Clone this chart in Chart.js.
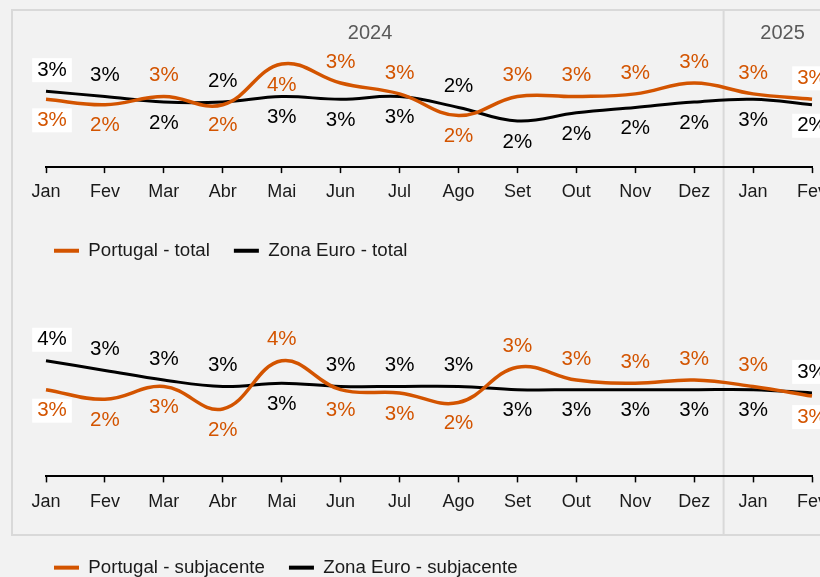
<!DOCTYPE html>
<html>
<head>
<meta charset="utf-8">
<script src="https://cdn.jsdelivr.net/npm/chart.js@4.4.1/dist/chart.umd.min.js"></script>
<style>
  html, body { margin: 0; padding: 0; background: #f2f2f2; overflow: hidden; width: 820px; height: 577px; }
  #frame { position: absolute; left: 11px; top: 9px; width: 900px; height: 527px; border: 2px solid #d9d9d9; box-sizing: border-box; }
  canvas { position: absolute; left: 0; }
</style>
</head>
<body>
<div id="frame"></div>
<canvas id="chartTotal" width="860" height="270" style="top:0"></canvas>
<canvas id="chartCore" width="860" height="320" style="top:270px"></canvas>
<script>
// months shown on the x axis and the year each one belongs to
const months = ['Jan', 'Fev', 'Mar', 'Abr', 'Mai', 'Jun', 'Jul', 'Ago', 'Set', 'Out', 'Nov', 'Dez', 'Jan', 'Fev'];
const monthYears = ['2024', '2024', '2024', '2024', '2024', '2024', '2024', '2024', '2024', '2024', '2024', '2024', '2025', '2025'];
const years = ['2024', '2025'];

// inflation, %
const ptTotal = [2.5, 2.3, 2.6, 2.3, 3.8, 3.1, 2.7, 1.9, 2.6, 2.6, 2.7, 3.1, 2.7, 2.5];
const ezTotal = [2.8, 2.6, 2.4, 2.4, 2.6, 2.5, 2.6, 2.2, 1.7, 2.0, 2.2, 2.4, 2.5, 2.3];
const ptCore = [2.7, 2.4, 2.8, 2.1, 3.6, 2.7, 2.6, 2.3, 3.4, 3.0, 2.9, 3.0, 2.8, 2.5];
const ezCore = [3.6, 3.3, 3.0, 2.8, 2.9, 2.8, 2.8, 2.8, 2.7, 2.7, 2.7, 2.7, 2.7, 2.6];

const ORANGE = '#d35400';
const BLACK = '#000000';
const TEXT = '#1a1a1a';
const FONT = "'Liberation Sans', Arial, sans-serif";
Chart.defaults.font.family = FONT;

// value labels: higher series above its point, lower one below
const valueLabels = {
  id: 'valueLabels',
  afterDatasetsDraw(chart, args, opts) {
    const ctx = chart.ctx;
    const [a, b] = chart.data.datasets;
    const ptsA = chart.getDatasetMeta(0).data;
    const ptsB = chart.getDatasetMeta(1).data;
    const last = a.data.length - 1;
    ctx.save();
    ctx.font = '20.5px ' + FONT;
    ctx.textAlign = 'center';
    ctx.textBaseline = 'middle';
    a.data.forEach((va, i) => {
      const vb = b.data[i];
      const allBelow = opts.below.includes(i);
      [[a, va, ptsA[i], va >= vb], [b, vb, ptsB[i], vb > va]].forEach(([ds, v, pt, higher]) => {
        const up = higher && !allBelow;
        const x = pt.x + (i === 0 ? 6 : 0);
        const y = pt.y + (up ? -opts.offset : opts.offset);
        const text = Math.round(v) + '%';
        if (i === 0 || i === last) {
          const w = ctx.measureText(text).width + 10;
          ctx.fillStyle = '#ffffff';
          ctx.fillRect(x - w / 2, y - 12, w, 24);
        }
        ctx.fillStyle = ds.borderColor;
        ctx.fillText(text, x, y);
      });
    });
    ctx.restore();
  }
};

// year separator line and year captions
const yearBands = {
  id: 'yearBands',
  beforeDraw(chart, args, opts) {
    const sx = chart.scales.x;
    const ctx = chart.ctx;
    ctx.save();
    ctx.strokeStyle = '#d9d9d9';
    ctx.lineWidth = 2;
    for (let i = 1; i < monthYears.length; i++) {
      if (monthYears[i] !== monthYears[i - 1]) {
        const x = (sx.getPixelForValue(i - 1) + sx.getPixelForValue(i)) / 2;
        ctx.beginPath();
        ctx.moveTo(x, opts.top);
        ctx.lineTo(x, opts.bottom);
        ctx.stroke();
      }
    }
    if (opts.showYears) {
      ctx.font = '20px ' + FONT;
      ctx.fillStyle = '#595959';
      ctx.textAlign = 'center';
      ctx.textBaseline = 'middle';
      years.forEach(yr => {
        const first = monthYears.indexOf(yr);
        const lastIdx = monthYears.lastIndexOf(yr);
        const x = (sx.getPixelForValue(first) + sx.getPixelForValue(lastIdx)) / 2;
        ctx.fillText(yr, x, opts.yearY);
      });
    }
    ctx.restore();
  }
};

function makeChart(id, labelA, dataA, labelB, dataB, cfg) {
  return new Chart(document.getElementById(id), {
    type: 'line',
    data: {
      labels: months,
      datasets: [
        { label: labelA, data: dataA, borderColor: ORANGE, backgroundColor: ORANGE, borderWidth: 3.5, pointRadius: 0, tension: 0.4, fill: false },
        { label: labelB, data: dataB, borderColor: BLACK, backgroundColor: BLACK, borderWidth: 3, pointRadius: 0, tension: 0.4, fill: false }
      ]
    },
    options: {
      responsive: false,
      animation: false,
      events: [],
      layout: { padding: { left: 30, right: 48, top: cfg.padTop, bottom: cfg.padBottom } },
      scales: {
        x: {
          type: 'category',
          offset: false,
          grid: { display: true, drawOnChartArea: false, drawTicks: true, tickLength: 6, tickColor: '#000', tickWidth: 1.5 },
          border: { display: true, color: '#000', width: 2 },
          ticks: { color: TEXT, font: { size: 18 }, padding: 8.5, maxRotation: 0, autoSkip: false }
        },
        y: {
          min: 0,
          max: 5,
          ticks: { display: false },
          grid: { display: false },
          border: { display: false },
          afterFit: s => { s.width = 16; }
        }
      },
      plugins: {
        tooltip: { enabled: false },
        legend: {
          position: 'bottom',
          align: 'start',
          title: { display: true, text: '', font: { size: 2, lineHeight: 1 }, padding: { top: cfg.legendGap, bottom: 0 } },
          labels: {
            boxWidth: 25,
            boxHeight: 4,
            padding: 24,
            color: TEXT,
            font: { size: 18.7 },
            generateLabels: chart => chart.data.datasets.map((ds, i) => ({
              text: ds.label,
              fillStyle: ds.borderColor,
              strokeStyle: ds.borderColor,
              fontColor: TEXT,
              lineWidth: 0,
              hidden: false,
              datasetIndex: i
            }))
          }
        },
        valueLabels: { offset: 21, below: cfg.below },
        yearBands: { top: cfg.sepTop, bottom: cfg.sepBottom, showYears: cfg.showYears, yearY: 33 }
      }
    },
    plugins: [yearBands, valueLabels]
  });
}

makeChart('chartTotal', 'Portugal - total', ptTotal, 'Zona Euro - total', ezTotal,
  { padTop: 31.5, padBottom: 0, legendGap: 3.6, below: [4], sepTop: 11, sepBottom: 270, showYears: true });

makeChart('chartCore', 'Portugal - subjacente', ptCore, 'Zona Euro - subjacente', ezCore,
  { padTop: 45.8, padBottom: 3, legendGap: 11.3, below: [], sepTop: 0, sepBottom: 264, showYears: false });
</script>
</body>
</html>
